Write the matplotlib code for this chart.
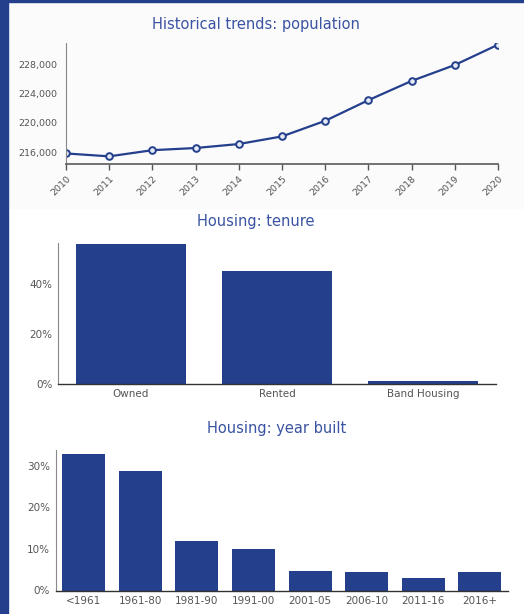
import matplotlib.pyplot as plt
import matplotlib.patches as mpatches
from matplotlib.ticker import FuncFormatter

# data
years = [2010, 2011, 2012, 2013, 2014, 2015, 2016, 2017, 2018, 2019, 2020]
population = [215800, 215400, 216250, 216550, 217100, 218150, 220300, 223150, 225800, 228000, 230800]

tenure_labels = ['Owned', 'Rented', 'Band Housing']
tenure_pct = [55.8, 44.9, 1.0]

built_labels = ['<1961', '1961-80', '1981-90', '1991-00', '2001-05', '2006-10', '2011-16', '2016+']
built_pct = [32.8, 28.7, 12.0, 10.0, 4.7, 4.5, 3.0, 4.5]

BLUE = '#243f8c'
TITLE = '#3a53a2'
TICK = '#555555'

W, H = 524, 614
fig = plt.figure(figsize=(W / 100, H / 100), dpi=100)


def px_axes(left, top, right, bottom):
    return fig.add_axes([left / W, 1 - bottom / H, (right - left) / W, (bottom - top) / H])


# decorations: left stripe, top border, light background behind top chart
fig.patches.append(mpatches.Rectangle((8 / W, 1 - 208 / H), 1, 207 / H, transform=fig.transFigure,
                                      color='#fbfbfb', zorder=-5))
fig.patches.append(mpatches.Rectangle((0, 0), 8 / W, 1, transform=fig.transFigure, color=BLUE, zorder=-4))
fig.patches.append(mpatches.Rectangle((0, 1 - 1.5 / H), 1, 1.5 / H, transform=fig.transFigure, color=BLUE, zorder=-4))

# population line
ax1 = px_axes(66, 43, 498, 164)
ax1.set_facecolor('none')
ax1.plot(years, population, color=BLUE, lw=1.6, marker='o', ms=4.8, mfc='#e6eaf5', mec=BLUE, mew=1.4,
         clip_on=True)
ax1.set_xlim(2010, 2020)
ax1.set_ylim(214345, 231034)
ax1.set_xticks(years)
ax1.set_xticklabels([str(y) for y in years], rotation=45, ha='right', rotation_mode='anchor')
ax1.set_yticks([216000, 220000, 224000, 228000])
ax1.yaxis.set_major_formatter(FuncFormatter(lambda v, p: f'{int(v):,}'))
ax1.tick_params(axis='y', length=0, pad=6, labelsize=6.8, colors=TICK)
ax1.tick_params(axis='x', length=4, width=1, pad=3, labelsize=6.8, colors=TICK)
for s in ['top', 'right']:
    ax1.spines[s].set_visible(False)
ax1.spines['left'].set_color('#888888')
ax1.spines['left'].set_linewidth(0.8)
ax1.spines['bottom'].set_color('#666666')
ax1.spines['bottom'].set_linewidth(1.3)
fig.text(255.5 / W, 1 - 25 / H, 'Historical trends: population', ha='center', va='center',
         fontsize=10.5, color=TITLE)


def bar_axes(ax, labels, values, ymax, yticks):
    ax.bar(range(len(labels)), values, width=0.76, color=BLUE)
    ax.set_xlim(-0.5, len(labels) - 0.5)
    ax.set_ylim(0, ymax)
    ax.set_xticks(range(len(labels)))
    ax.set_xticklabels(labels)
    ax.set_yticks(yticks)
    ax.set_yticklabels([f'{t}%' for t in yticks])
    ax.tick_params(axis='both', length=0, labelsize=7.5, colors=TICK)
    ax.tick_params(axis='x', pad=4)
    ax.tick_params(axis='y', pad=4)
    for s in ['top', 'right']:
        ax.spines[s].set_visible(False)
    ax.spines['left'].set_color('#888888')
    ax.spines['left'].set_linewidth(0.8)
    ax.spines['bottom'].set_color('#333333')
    ax.spines['bottom'].set_linewidth(1.0)


ax2 = px_axes(58, 243, 496, 383.5)
bar_axes(ax2, tenure_labels, tenure_pct, 56.3, [0, 20, 40])
fig.text(256 / W, 1 - 222 / H, 'Housing: tenure', ha='center', va='center', fontsize=10.5, color=TITLE)

ax3 = px_axes(55.5, 450, 508, 590.5)
bar_axes(ax3, built_labels, built_pct, 33.8, [0, 10, 20, 30])
fig.text(277 / W, 1 - 429 / H, 'Housing: year built', ha='center', va='center', fontsize=10.5, color=TITLE)

plt.savefig('out.png', dpi=100)
